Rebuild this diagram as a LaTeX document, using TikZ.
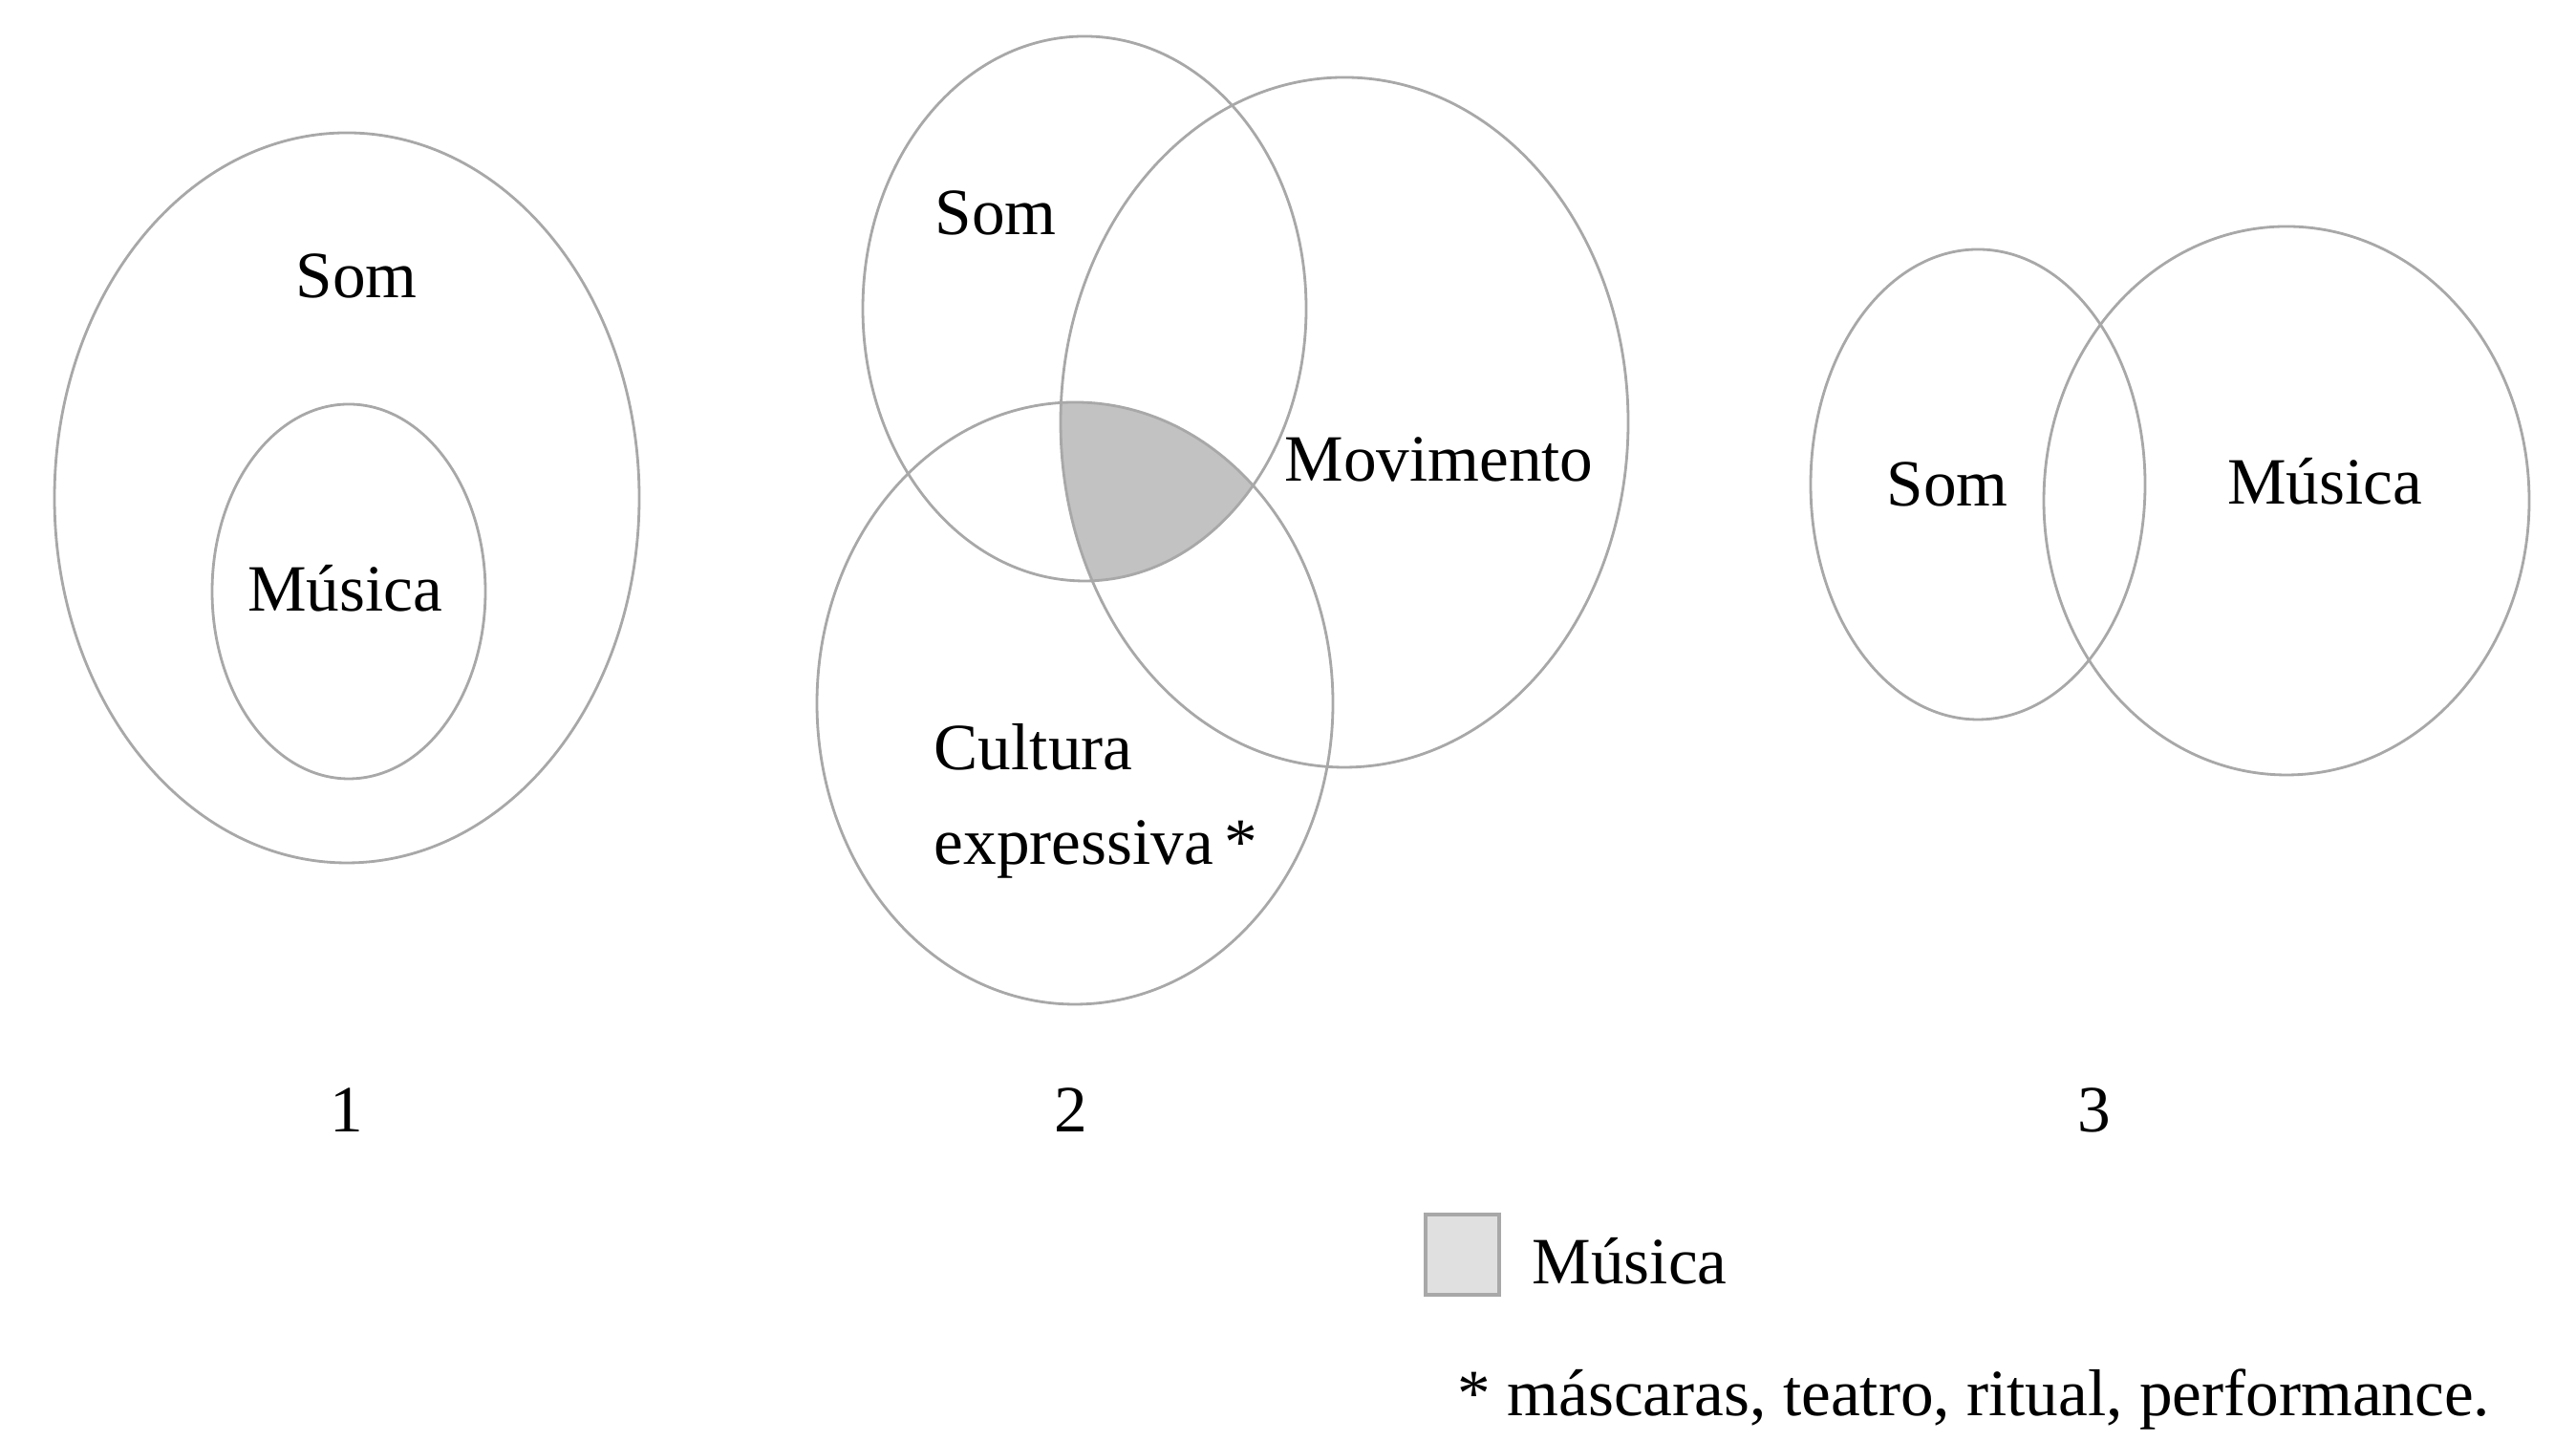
\documentclass[tikz,border=0pt]{standalone}
\usepackage{fontspec}
\setmainfont{Liberation Serif}
\usepackage{tikz}
\usepackage{xcolor}

\definecolor{ringgray}{HTML}{A8A8A8}
\definecolor{musicgray}{HTML}{C2C2C2}
\definecolor{keygray}{HTML}{E0E0E0}

\tikzset{
    ring/.style={draw=ringgray, line width=0.8pt},
    label/.style={font=\fontsize{19.7}{24}\selectfont, inner sep=0pt},
    labelleft/.style={label, anchor=west}
}

\begin{document}
\begin{tikzpicture}

    \useasboundingbox (0,0) rectangle (26.96,15.08);

    % Diagram 1: Musica inside Som
    \begin{scope}[shift={(3.63, 0)}]
        \draw[ring] (0, 9.87) ellipse (3.06 and 3.82);
        \draw[ring] (0.02, 8.89) ellipse (1.43 and 1.96);

        \node[label] (som1) at (0.10, 12.19) {Som};
        \node[label] (musica1) at (-0.02, 8.92) {Música};
        \node[label] (num1) at (0, 3.46) {1};
    \end{scope}

    % Diagram 2: Som, Movimento and Cultura expressiva
    \begin{scope}[shift={(11.21, 0)}]
        % Shade the common part
        \begin{scope}
            \clip (0.14, 11.85) ellipse (2.32 and 2.85);
            \clip (0.04, 7.72) ellipse (2.70 and 3.15);
            \fill[musicgray] (2.86, 10.66) ellipse (2.97 and 3.61);
        \end{scope}

        \draw[ring] (0.14, 11.85) ellipse (2.32 and 2.85);
        \draw[ring] (2.86, 10.66) ellipse (2.97 and 3.61);
        \draw[ring] (0.04, 7.72) ellipse (2.70 and 3.15);

        \node[label] (som2) at (-0.79, 12.85) {Som};
        \node[label] (movimento) at (3.85, 10.27) {Movimento};
        \node[labelleft] (cultura) at (-1.44, 7.26) {Cultura};
        \node[labelleft] (expressiva) at (-1.44, 6.19) {expressiva\,*};
        \node[label] (num2) at (0, 3.46) {2};
    \end{scope}

    % Diagram 3: Som and Musica overlapping
    \begin{scope}[shift={(21.92, 0)}]
        \draw[ring] (-1.22, 10.01) ellipse (1.75 and 2.46);
        \draw[ring] (2.01, 9.84) ellipse (2.54 and 2.87);

        \node[label] (som3) at (-1.54, 10.01) {Som};
        \node[label] (musica3) at (2.41, 10.04) {Música};
        \node[label] (num3) at (0, 3.46) {3};
    \end{scope}

    % Legend
    \draw[fill=keygray, draw=ringgray, line width=1.2pt] (14.92, 1.53) rectangle (15.69, 2.37);
    \node[labelleft] (keymusica) at (16.03, 1.88) {Música};
    \node[labelleft] (footnote) at (15.25, 0.43) {* máscaras, teatro, ritual, performance.};

\end{tikzpicture}
\end{document}
